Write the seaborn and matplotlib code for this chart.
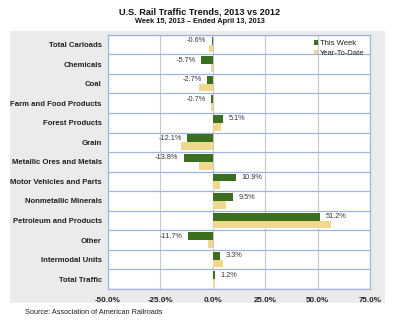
import matplotlib
matplotlib.use("Agg")
import matplotlib.pyplot as plt
import seaborn as sns
import pandas as pd
import numpy as np
from matplotlib.patches import Rectangle
from matplotlib.ticker import FuncFormatter, FixedLocator

categories = [
    "Total Carloads", "Chemicals", "Coal", "Farm and Food Products",
    "Forest Products", "Grain", "Metallic Ores and Metals",
    "Motor Vehicles and Parts", "Nonmetallic Minerals",
    "Petroleum and Products", "Other", "Intermodal Units", "Total Traffic",
]
this_week = [-0.6, -5.7, -2.7, -0.7, 5.1, -12.1, -13.8, 10.9, 9.5, 51.2, -11.7, 3.3, 1.2]
year_to_date = [-2.0, -1.0, -6.5, -0.9, 3.7, -15.2, -6.4, 3.2, 6.4, 56.5, -2.5, 5.0, 1.0]
series_names = ["This Week", "Year-To-Date"]
x_ticks = [-50, -25, 0, 25, 50, 75]

sns.set_style("white")
plt.rcParams["font.family"] = ["Liberation Sans", "DejaVu Sans"]

df = pd.DataFrame({
    "category": categories * 2,
    "value": this_week + year_to_date,
    "series": [series_names[0]] * len(categories) + [series_names[1]] * len(categories),
})

fig = plt.figure(figsize=(4.0, 3.28), dpi=100)
fig.patch.set_facecolor("white")

# light gray panel behind the chart
fig.patches.append(Rectangle((0.025, 0.076), 0.9375, 0.829, transform=fig.transFigure,
                             facecolor="#ebebeb", edgecolor="none", zorder=-10))

ax = fig.add_axes([0.27, 0.119, 0.655, 0.775])
ax.set_facecolor("white")

palette = {"This Week": "#3b6e1e", "Year-To-Date": "#f0d98c"}
sns.barplot(data=df, y="category", x="value", hue="series", order=categories,
            hue_order=series_names, palette=palette, orient="h", width=0.8,
            saturation=1, linewidth=0, ax=ax, zorder=3)

ax.set_xlim(-50, 75)
ax.set_ylim(len(categories) - 0.5, -0.5)
ax.xaxis.set_major_locator(FixedLocator(x_ticks))
ax.xaxis.set_major_formatter(FuncFormatter(lambda v, p: f"{v:.1f}%"))
ax.set_xlabel("")
ax.set_ylabel("")

# grid: gray verticals at ticks, blue lines between categories
ax.grid(axis="x", which="major", color="#c4c8cf", linewidth=0.8, zorder=1)
ax.yaxis.set_minor_locator(FixedLocator(np.arange(-0.5, len(categories), 1.0)))
ax.grid(axis="y", which="minor", color="#9fb6dc", linewidth=0.9, zorder=1)
ax.grid(axis="y", which="major", visible=False)
ax.tick_params(axis="both", which="both", length=0)
ax.tick_params(axis="y", pad=4.5)
ax.tick_params(axis="x", pad=6)

for lab in ax.get_yticklabels():
    lab.set_fontsize(5.6)
    lab.set_fontweight("bold")
    lab.set_color("#222222")
for lab in ax.get_xticklabels():
    lab.set_fontsize(5.8)
    lab.set_fontweight("bold")
    lab.set_color("#222222")

for s in ["top", "right", "left", "bottom"]:
    ax.spines[s].set_color("#9fb6dc")
    ax.spines[s].set_linewidth(0.9)

# value labels centred on the weekly bars
for i, v in enumerate(this_week):
    yc = i - 0.2
    if v < 0:
        ax.annotate(f"{v:.1f}%", xy=(v, yc), xytext=(-4, 0), textcoords="offset points",
                    ha="right", va="center", fontsize=5.3, color="#333333", zorder=5)
    else:
        ax.annotate(f"{v:.1f}%", xy=(v, yc), xytext=(4, 0), textcoords="offset points",
                    ha="left", va="center", fontsize=5.3, color="#333333", zorder=5)

leg = ax.legend(loc="upper right", frameon=False, fontsize=5.5, handlelength=0.5,
                handleheight=0.6, handletextpad=0.3, borderaxespad=0.3, labelspacing=0.3)
for t in leg.get_texts():
    t.set_color("#222222")

fig.text(0.5, 0.963, "U.S. Rail Traffic Trends, 2013 vs 2012", ha="center", va="center",
         fontsize=6.6, fontweight="bold", color="#111111")
fig.text(0.5, 0.935, "Week 15, 2013 \u2013 Ended April 13, 2013", ha="center", va="center",
         fontsize=5.3, fontweight="bold", color="#111111")
fig.text(0.063, 0.048, "Source: Association of American Railroads", ha="left", va="center",
         fontsize=5.3, color="#222222")

fig.savefig("out.png", dpi=100, facecolor="white")
